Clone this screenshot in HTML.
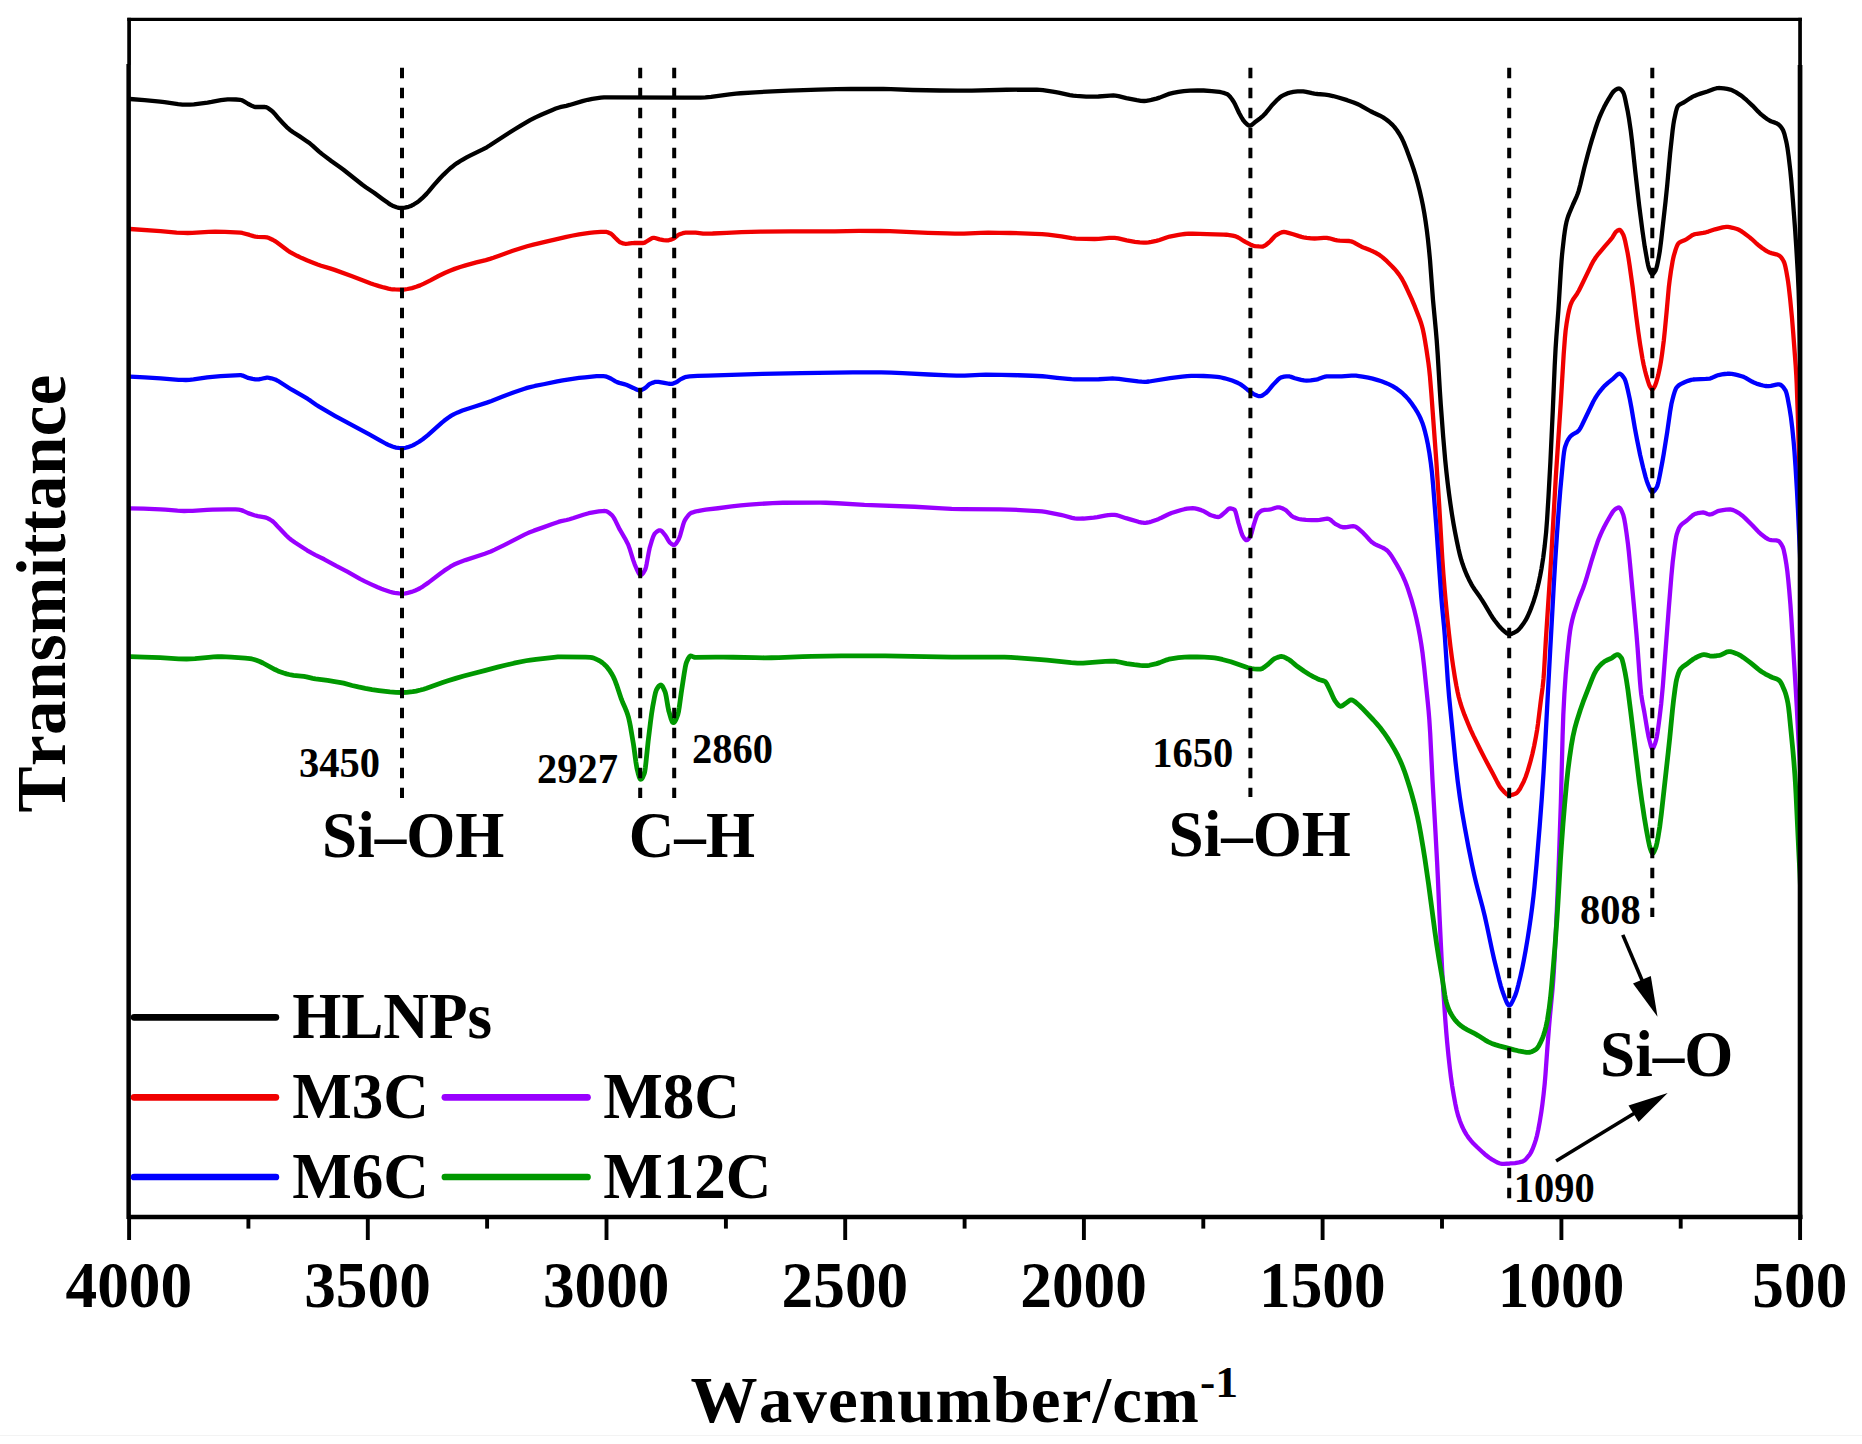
<!DOCTYPE html>
<html lang="en">
<head>
<meta charset="utf-8">
<title>FTIR spectra</title>
<style>
html,body{margin:0;padding:0;background:#fff;}
body{width:1862px;height:1444px;overflow:hidden;}
svg{display:block;}
text{font-kerning:none;font-family:"Liberation Serif","Times New Roman",serif;font-weight:bold;fill:#000;}
.crv{fill:none;stroke-width:4.3;stroke-linejoin:round;stroke-linecap:round;}
.dash{stroke:#000;stroke-width:4;stroke-dasharray:10.5 9.5;fill:none;}
.lg{stroke-width:6.7;stroke-linecap:round;fill:none;}
.tk{stroke:#000;stroke-width:3.9;fill:none;}
</style>
</head>
<body>
<svg width="1862" height="1444" viewBox="0 0 1862 1444">
<rect x="0" y="0" width="1862" height="1444" fill="#ffffff"/>
<defs><clipPath id="plot"><rect x="128.8" y="19.5" width="1671.2" height="1196.7"/></clipPath></defs>
<g id="curves" clip-path="url(#plot)">
<path id="c-black" class="crv" stroke="#000000" d="M130.0,99.00 144.5,100.22 160.1,101.71 164.5,102.24 178.1,104.15 182.5,104.56 186.4,104.70 189.9,104.61 193.9,104.30 207.5,102.60 211.6,101.95 220.9,100.19 225.4,99.56 227.7,99.37 229.8,99.30 236.0,99.49 240.2,99.82 241.0,99.99 241.9,100.30 243.6,101.14 247.9,103.76 252.4,106.12 254.2,106.82 255.4,107.00 265.1,107.01 265.8,107.11 266.6,107.36 267.7,107.90 268.9,108.69 272.0,111.05 273.0,111.93 274.8,113.88 278.9,118.84 283.0,123.24 286.7,127.04 289.7,129.72 292.8,132.00 299.7,136.43 306.4,140.92 309.8,143.36 312.5,145.55 319.1,151.55 322.5,154.36 331.6,161.17 340.1,167.20 343.5,169.70 362.4,184.74 365.8,187.17 374.1,192.67 382.8,199.17 388.6,203.33 390.5,204.58 392.5,205.64 396.6,207.21 398.8,207.81 400.7,208.00 402.7,207.89 404.9,207.56 408.5,206.78 410.1,206.27 411.9,205.46 414.0,204.30 417.3,202.20 419.1,200.87 422.2,198.15 426.5,193.86 428.5,191.60 434.1,184.91 439.8,178.56 443.6,174.58 447.6,170.76 451.0,167.73 454.0,165.30 457.1,163.08 461.5,160.28 466.6,157.38 470.5,155.40 482.8,149.43 486.8,147.27 490.0,145.28 496.9,140.68 504.6,135.71 514.4,129.51 521.2,125.35 530.1,120.21 535.5,117.40 541.8,114.47 553.0,109.67 555.8,108.57 558.3,107.71 561.1,106.92 566.3,105.79 569.6,104.96 582.5,101.15 587.7,99.78 592.4,98.84 600.9,97.66 604.0,97.39 606.7,97.30 684.4,97.68 697.0,97.70 700.3,97.63 705.4,97.34 711.1,96.79 729.5,94.38 736.0,93.64 740.6,93.26 755.1,92.30 772.4,91.31 788.9,90.58 818.3,89.61 836.5,89.16 850.9,89.00 883.3,89.02 890.9,89.20 912.5,89.98 939.8,90.52 957.4,90.70 971.8,90.57 1006.5,89.74 1036.9,89.70 1039.8,89.82 1043.0,90.13 1054.3,91.85 1058.5,92.64 1069.8,95.08 1073.2,95.64 1076.3,95.97 1086.2,96.54 1093.8,96.70 1098.4,96.51 1110.0,95.59 1113.4,95.50 1115.4,95.62 1118.5,96.13 1126.3,98.08 1136.8,100.22 1140.8,100.82 1144.2,101.00 1146.4,100.86 1148.8,100.49 1151.3,99.95 1156.5,98.65 1159.6,97.63 1166.2,94.92 1169.1,93.89 1173.1,92.91 1178.5,91.82 1183.8,91.07 1190.0,90.66 1197.4,90.41 1203.6,90.51 1211.8,91.09 1216.8,91.59 1219.6,91.98 1222.2,92.50 1224.6,93.16 1226.8,93.94 1227.9,94.59 1229.0,95.57 1230.3,97.04 1232.0,99.30 1233.8,101.93 1235.3,104.78 1239.1,112.98 1242.0,118.19 1243.6,120.74 1244.8,122.20 1247.4,124.59 1248.7,125.41 1249.3,125.62 1249.9,125.70 1250.8,125.50 1251.8,124.89 1254.5,122.55 1260.3,118.20 1263.3,115.60 1264.6,114.29 1266.0,112.71 1271.0,106.47 1273.0,104.14 1277.5,99.59 1280.0,97.33 1281.1,96.50 1282.1,95.87 1285.1,94.40 1288.3,93.10 1291.2,92.26 1293.2,91.91 1297.7,91.47 1300.9,91.31 1303.2,91.35 1306.2,91.80 1312.0,93.19 1314.4,93.64 1317.6,94.01 1325.1,94.68 1328.6,95.14 1333.0,96.05 1338.4,97.52 1347.1,100.17 1353.7,102.51 1357.4,104.03 1359.8,105.14 1362.4,106.54 1370.6,111.25 1373.1,112.49 1379.5,115.45 1383.1,117.39 1386.2,119.44 1389.1,121.72 1391.9,124.30 1394.3,126.90 1396.9,130.26 1399.5,134.21 1401.6,137.87 1403.5,141.90 1406.3,148.81 1410.9,161.16 1413.5,168.75 1415.8,176.20 1417.9,183.68 1419.7,190.71 1421.4,198.11 1422.9,205.42 1424.3,213.20 1425.6,221.40 1426.8,229.94 1427.9,239.05 1429.0,249.47 1430.0,260.03 1433.0,300.00 1435.8,329.70 1436.7,340.22 1437.7,354.49 1439.9,391.30 1440.8,405.00 1443.2,436.93 1445.2,459.94 1446.4,471.69 1447.7,483.20 1449.0,493.62 1450.4,503.82 1452.0,514.52 1453.5,523.66 1454.9,531.42 1456.8,541.03 1458.4,548.56 1459.9,554.91 1461.2,559.69 1462.6,564.07 1464.5,569.37 1466.6,574.51 1468.9,579.46 1471.3,584.04 1472.8,586.58 1474.5,589.23 1480.2,597.35 1482.2,600.34 1484.4,603.91 1490.9,614.87 1492.9,617.97 1494.7,620.50 1498.9,625.83 1500.6,627.75 1502.1,629.27 1505.6,632.32 1506.8,633.26 1508.1,633.98 1508.7,634.15 1509.2,634.20 1510.1,634.13 1511.1,633.92 1512.1,633.59 1513.3,633.07 1516.4,631.40 1517.4,630.68 1518.4,629.81 1519.5,628.68 1520.6,627.41 1523.1,624.07 1525.5,620.42 1527.4,616.88 1529.4,612.46 1531.5,607.14 1533.7,600.91 1535.5,595.14 1537.1,589.28 1538.6,583.05 1540.1,576.01 1541.5,568.60 1543.2,557.75 1544.7,545.89 1546.1,532.36 1547.1,519.37 1548.5,496.64 1550.4,461.86 1552.8,410.40 1554.7,365.75 1555.6,348.33 1556.4,336.43 1558.4,310.15 1560.7,272.81 1561.5,261.24 1562.0,255.33 1562.6,249.42 1564.1,236.37 1564.9,230.57 1565.7,225.70 1566.4,222.31 1567.3,218.93 1568.2,216.12 1569.2,213.48 1573.0,204.50 1576.6,196.52 1577.7,193.71 1578.6,191.07 1580.3,184.81 1584.3,167.78 1587.5,155.57 1589.9,146.79 1591.9,139.93 1595.2,129.28 1597.3,123.01 1599.1,118.18 1600.7,114.37 1602.4,110.61 1604.1,107.11 1605.9,103.68 1607.6,100.70 1611.3,94.56 1612.7,92.53 1614.0,91.03 1614.6,90.51 1615.4,89.97 1617.3,88.88 1618.5,88.53 1619.0,88.50 1619.5,88.60 1620.0,88.82 1620.6,89.23 1621.9,90.58 1623.2,92.36 1623.9,94.00 1624.5,96.06 1625.2,99.01 1627.6,110.73 1629.1,119.47 1630.7,130.32 1632.0,140.93 1635.3,171.84 1639.2,205.69 1642.4,230.54 1644.7,246.45 1647.2,260.73 1648.0,264.69 1648.7,267.52 1649.3,269.30 1650.2,271.41 1650.9,272.83 1651.3,273.46 1651.7,273.92 1652.1,274.17 1652.5,274.18 1652.9,274.02 1653.3,273.73 1654.3,272.51 1655.6,270.31 1656.3,268.50 1657.0,265.94 1657.8,262.31 1659.0,255.97 1659.8,251.22 1661.2,240.31 1665.6,201.09 1667.2,185.40 1670.1,153.46 1672.6,130.58 1673.4,124.49 1674.2,119.70 1675.9,111.80 1676.6,109.20 1677.2,107.46 1677.6,106.59 1678.0,106.00 1678.9,105.12 1679.9,104.38 1680.9,103.82 1684.1,102.26 1690.1,98.30 1692.4,96.91 1694.4,95.91 1697.3,94.74 1700.5,93.63 1707.4,91.47 1713.9,89.00 1716.7,88.24 1718.6,88.01 1721.0,88.06 1723.9,88.36 1727.2,88.92 1730.2,89.58 1732.7,90.54 1735.8,92.19 1740.4,95.05 1743.3,97.26 1746.7,100.24 1752.7,105.85 1758.0,111.39 1759.9,113.28 1761.4,114.62 1764.7,117.28 1767.4,119.24 1769.8,120.69 1771.6,121.52 1775.0,122.65 1776.4,123.21 1777.9,124.03 1779.1,124.94 1780.2,126.04 1781.3,127.41 1782.5,129.26 1783.2,130.61 1783.9,132.44 1784.6,134.71 1786.2,141.19 1786.8,144.08 1787.4,147.55 1788.6,155.99 1790.3,170.41 1791.3,180.80 1792.8,199.20 1795.1,229.46 1796.2,246.02 1797.8,272.82 1798.6,290.73 1799.2,310.53 1800.2,365.91 1801.0,420.00"/>
<path id="c-red" class="crv" stroke="#f00000" d="M130.0,229.00 160.5,231.04 176.6,232.53 183.7,232.95 187.7,233.00 192.3,232.88 208.6,231.93 215.1,231.71 225.0,231.82 235.4,232.29 240.3,232.63 242.3,232.95 249.5,234.94 253.4,236.13 255.4,236.58 257.9,236.82 264.6,237.10 266.9,237.38 268.3,237.80 269.9,238.45 273.1,240.00 274.6,240.86 276.4,242.08 281.4,245.72 288.0,250.71 290.1,252.08 292.9,253.70 297.0,255.82 301.8,258.08 306.8,260.22 313.7,263.00 317.6,264.48 321.1,265.70 330.0,268.35 334.6,269.89 352.1,276.31 370.9,283.42 373.9,284.47 379.1,286.14 383.8,287.45 388.4,288.57 390.8,289.04 392.5,289.27 395.2,289.46 400.8,289.70 403.8,289.57 407.5,289.00 412.0,288.07 416.2,286.79 420.1,285.36 423.9,283.65 430.4,280.38 438.5,276.00 444.7,272.99 449.3,270.96 454.7,268.88 460.2,266.98 465.6,265.34 476.4,262.43 485.8,260.06 490.0,258.85 493.4,257.72 500.5,255.15 512.8,250.84 521.5,247.97 527.1,246.25 533.4,244.57 545.0,241.81 560.1,238.38 566.5,236.82 571.7,235.75 579.1,234.43 589.4,232.88 594.0,232.38 600.9,231.92 604.4,231.81 606.1,231.86 607.7,232.26 609.8,233.16 611.0,233.78 612.0,234.57 614.9,237.54 618.1,240.64 619.8,242.07 620.7,242.56 623.0,243.34 624.5,243.68 625.8,243.80 627.9,243.69 632.0,243.16 633.7,243.02 643.1,243.00 643.7,242.94 644.4,242.72 645.3,242.27 651.6,238.34 652.4,237.98 653.2,237.81 654.1,237.84 655.1,238.00 659.6,239.35 663.5,240.06 666.5,240.38 667.6,240.39 668.6,240.27 670.7,239.68 673.7,238.46 674.9,237.63 677.7,235.27 679.0,234.48 682.8,233.19 684.3,232.86 685.6,232.71 695.6,232.72 697.6,232.89 703.1,233.61 706.5,233.69 712.6,233.52 726.8,232.79 741.5,232.22 760.8,231.64 790.5,231.32 834.8,231.29 859.1,230.90 880.6,231.01 889.9,231.19 900.6,231.58 927.9,232.81 947.1,233.47 954.8,233.66 960.2,233.70 964.0,233.64 980.8,232.82 988.2,232.70 999.2,232.78 1010.6,232.99 1022.5,233.32 1034.9,233.78 1042.1,234.12 1048.0,234.69 1061.4,236.49 1071.6,238.22 1076.0,238.67 1086.0,238.93 1094.5,238.99 1098.7,238.78 1109.3,237.91 1112.5,237.80 1114.6,237.87 1116.4,238.08 1118.4,238.44 1126.6,240.37 1134.9,241.79 1139.7,242.46 1143.7,242.70 1146.0,242.63 1148.6,242.35 1151.4,241.88 1156.3,240.92 1159.5,240.04 1166.6,237.49 1169.7,236.56 1178.6,234.86 1181.8,234.35 1184.7,234.00 1188.5,233.73 1192.5,233.72 1207.1,234.19 1223.7,234.56 1226.5,234.73 1229.4,235.09 1232.6,235.68 1235.8,236.44 1237.2,236.98 1238.8,237.81 1243.7,240.94 1245.3,241.89 1250.2,244.43 1252.2,245.33 1253.7,245.81 1255.2,246.07 1259.0,246.47 1262.1,246.60 1262.7,246.56 1263.3,246.41 1264.6,245.79 1265.8,244.95 1268.9,242.47 1270.5,240.94 1274.1,236.94 1275.0,236.09 1275.9,235.39 1278.9,233.60 1280.7,232.70 1282.4,232.14 1283.9,232.00 1285.5,232.16 1287.4,232.60 1293.2,234.26 1299.0,236.15 1301.5,236.87 1303.5,237.30 1306.8,237.80 1311.2,238.33 1314.7,238.50 1317.4,238.40 1323.8,237.85 1325.6,237.80 1326.7,237.85 1329.3,238.31 1334.8,239.92 1337.2,240.45 1339.7,240.66 1349.4,241.02 1350.9,241.28 1352.6,241.86 1355.0,243.02 1359.6,245.71 1361.5,246.72 1364.1,247.86 1370.5,250.37 1373.3,251.57 1376.3,253.05 1378.9,254.62 1380.7,255.90 1382.6,257.39 1386.9,261.21 1392.2,266.42 1394.3,268.69 1396.2,270.90 1399.1,274.65 1401.7,278.52 1403.9,282.49 1406.6,288.03 1411.6,298.92 1415.1,307.17 1419.7,319.01 1420.9,322.49 1421.9,325.79 1422.9,329.64 1423.9,334.46 1425.0,340.66 1426.5,349.87 1428.4,362.81 1429.2,369.32 1429.9,375.93 1431.3,392.78 1436.4,462.44 1439.2,505.23 1442.3,558.66 1443.4,574.08 1444.7,590.21 1446.0,604.73 1447.4,618.94 1449.0,634.04 1450.5,647.00 1451.8,657.08 1453.1,666.01 1454.8,676.82 1456.3,685.44 1457.6,692.02 1458.8,697.22 1460.4,703.02 1462.1,708.36 1464.5,714.91 1468.4,724.47 1470.8,730.03 1473.5,735.86 1480.6,750.20 1484.5,757.87 1488.4,765.29 1493.1,773.97 1497.3,782.14 1499.1,785.36 1500.3,787.27 1501.4,788.77 1504.8,792.50 1505.9,793.56 1506.9,794.35 1507.8,794.87 1508.7,795.15 1509.8,795.18 1511.3,794.98 1512.8,794.60 1514.5,794.00 1515.9,793.40 1516.5,793.06 1517.3,792.38 1518.2,791.36 1519.3,789.80 1520.5,787.79 1523.9,781.16 1525.7,776.79 1527.7,770.90 1530.1,762.73 1532.3,754.29 1534.2,745.73 1536.0,736.33 1537.2,729.28 1538.0,723.76 1540.9,700.00 1542.6,687.42 1543.5,678.88 1544.1,670.53 1545.9,639.20 1551.0,561.11 1555.8,477.10 1560.7,403.86 1563.7,354.19 1564.9,338.22 1565.6,330.73 1566.7,322.81 1568.0,315.15 1568.9,310.81 1569.8,307.25 1570.7,304.46 1571.8,301.86 1572.6,300.30 1573.4,298.95 1577.1,293.69 1578.8,290.77 1581.3,285.81 1590.8,266.06 1593.4,261.11 1595.7,257.51 1598.5,253.79 1605.0,246.09 1609.6,240.92 1611.7,238.36 1612.7,236.91 1615.0,233.03 1616.1,231.65 1617.7,230.50 1618.3,230.17 1618.9,229.96 1619.4,229.90 1619.8,229.97 1620.2,230.19 1620.7,230.63 1621.3,231.36 1621.9,232.27 1623.4,235.03 1624.2,237.36 1625.2,241.29 1627.6,252.93 1628.5,258.21 1629.6,265.40 1632.6,286.90 1636.2,316.20 1638.3,331.96 1640.1,344.36 1642.5,358.87 1643.6,364.47 1645.1,371.02 1646.4,375.95 1648.2,381.92 1649.1,384.53 1649.9,386.32 1651.3,388.65 1651.8,389.19 1652.2,389.39 1652.5,389.37 1652.9,389.11 1653.3,388.66 1653.8,387.90 1655.0,385.71 1656.0,383.08 1657.3,378.72 1658.3,374.87 1659.3,370.31 1660.4,364.56 1661.2,359.83 1662.1,353.78 1663.8,340.44 1664.8,330.85 1666.6,311.95 1668.8,287.39 1669.6,280.69 1670.9,271.39 1672.5,261.79 1673.3,257.88 1674.0,255.02 1675.4,250.29 1676.6,246.83 1677.6,244.61 1678.1,243.79 1678.6,243.19 1679.6,242.42 1680.7,241.79 1684.4,240.32 1685.7,239.69 1687.2,238.74 1691.5,235.69 1692.8,234.95 1694.0,234.46 1697.0,233.76 1703.2,232.83 1705.9,232.28 1708.4,231.56 1715.1,229.31 1722.7,227.35 1724.5,227.04 1726.2,226.91 1727.8,226.94 1729.6,227.14 1732.7,227.79 1737.0,229.03 1738.8,229.76 1740.8,230.85 1743.9,232.95 1749.7,237.34 1751.7,239.04 1756.0,243.05 1757.9,244.72 1762.1,247.97 1764.7,249.85 1767.2,251.40 1769.5,252.51 1771.4,253.12 1776.2,254.33 1777.6,254.83 1778.8,255.39 1779.8,256.03 1780.7,256.86 1781.6,257.92 1782.5,259.24 1783.5,261.00 1784.2,262.50 1784.8,264.36 1785.4,266.77 1786.3,271.16 1787.4,277.40 1788.1,281.77 1788.8,286.99 1790.2,299.52 1792.0,318.13 1793.2,332.79 1795.7,365.85 1796.3,375.54 1796.7,383.76 1797.7,411.64 1798.8,447.64 1801.0,530.00"/>
<path id="c-blue" class="crv" stroke="#0000ff" d="M130.0,376.70 144.7,377.43 160.6,378.34 178.6,379.80 182.4,379.96 185.8,379.99 189.4,379.83 193.5,379.43 207.2,377.39 212.4,376.78 220.6,376.20 240.1,375.10 241.2,375.22 242.5,375.58 246.6,377.34 248.1,377.87 252.6,378.88 255.3,379.30 257.3,379.40 258.9,379.28 260.6,378.97 264.7,378.01 266.8,377.72 267.8,377.70 268.9,377.79 271.3,378.27 275.1,379.44 276.4,380.02 277.8,380.79 291.4,389.48 302.7,395.90 307.8,398.93 310.4,400.64 316.1,404.70 319.1,406.63 335.3,416.08 340.0,418.69 369.3,434.42 379.9,440.29 386.0,443.75 389.3,445.32 392.4,446.52 394.5,447.19 396.0,447.53 398.6,447.92 400.6,448.13 402.3,448.20 403.9,448.10 405.7,447.75 407.7,447.18 411.1,446.05 412.7,445.37 414.4,444.51 419.1,441.75 422.7,439.25 427.6,435.35 441.6,422.86 444.1,420.81 448.2,417.73 451.3,415.64 454.1,414.08 457.8,412.38 462.4,410.57 466.3,409.21 474.9,406.56 486.9,402.61 491.5,400.94 502.1,396.71 513.4,392.45 523.7,388.95 527.1,387.90 530.1,387.08 534.9,385.97 543.5,384.25 557.3,381.35 562.7,380.35 572.6,378.82 579.0,377.96 585.0,377.30 596.6,376.18 599.3,376.10 603.4,376.22 605.2,376.34 606.6,376.68 608.0,377.23 611.2,378.74 615.5,381.32 617.1,382.12 619.3,382.87 624.1,384.14 626.2,384.81 628.0,385.54 633.3,387.92 637.1,389.79 638.5,390.25 639.7,390.40 640.6,390.29 641.7,389.92 642.8,389.37 645.0,388.08 646.1,387.22 648.6,384.85 649.7,384.05 652.3,382.89 654.3,382.19 655.3,381.96 656.3,381.82 658.4,381.87 664.2,382.78 668.9,383.76 670.5,383.90 671.7,383.81 673.6,383.32 676.3,382.27 677.4,381.59 680.4,379.38 684.3,377.45 685.4,377.05 686.4,376.78 689.6,376.41 697.5,375.96 708.2,375.53 762.4,373.92 801.2,373.14 852.9,372.43 881.2,372.40 891.1,372.58 902.5,373.07 928.8,374.50 948.9,375.43 956.5,375.67 960.8,375.70 964.7,375.62 979.8,374.87 985.9,374.70 1001.5,374.83 1018.4,375.25 1032.2,375.76 1042.5,376.25 1046.6,376.62 1057.0,377.81 1067.9,378.89 1071.5,379.20 1074.6,379.36 1094.9,379.38 1098.8,379.23 1109.3,378.58 1112.6,378.50 1114.9,378.55 1118.9,378.92 1125.9,379.87 1138.2,381.37 1141.6,381.68 1144.6,381.80 1146.7,381.75 1149.1,381.50 1170.1,378.19 1182.3,376.55 1187.2,376.03 1191.2,375.81 1196.5,375.83 1203.6,376.02 1211.1,376.39 1217.2,376.81 1219.2,377.09 1221.3,377.49 1224.6,378.30 1229.6,379.70 1232.1,380.52 1234.5,381.43 1238.1,383.04 1239.8,383.91 1240.9,384.57 1242.8,385.94 1247.5,389.69 1251.6,392.68 1253.3,393.78 1254.5,394.41 1257.5,395.69 1258.8,396.07 1259.9,396.20 1260.5,396.16 1261.1,396.02 1262.4,395.44 1265.5,393.33 1266.5,392.51 1268.4,390.50 1271.9,386.14 1273.2,384.63 1277.7,379.93 1279.5,378.34 1280.5,377.70 1281.4,377.33 1284.1,376.71 1286.4,376.38 1288.2,376.30 1289.6,376.48 1291.1,376.90 1294.8,378.21 1301.1,379.88 1304.0,380.45 1306.5,380.60 1310.7,380.36 1315.9,379.71 1318.2,379.06 1323.8,376.99 1325.3,376.58 1326.7,376.35 1341.6,376.29 1351.6,375.64 1353.9,375.60 1356.0,375.70 1358.9,376.02 1362.5,376.60 1368.3,377.66 1372.6,378.66 1376.9,379.86 1381.5,381.32 1385.2,382.68 1388.6,384.12 1392.6,386.12 1395.8,388.06 1399.4,390.68 1403.0,393.73 1406.0,396.60 1408.7,399.61 1411.5,403.21 1414.4,407.41 1417.0,411.57 1419.0,415.17 1420.8,418.96 1422.4,422.94 1423.7,426.86 1425.1,431.92 1426.5,437.78 1427.8,443.96 1429.4,453.14 1430.9,463.69 1432.0,473.03 1433.1,485.07 1436.1,523.55 1441.2,596.23 1442.1,606.83 1444.0,626.24 1444.8,635.81 1447.8,680.80 1449.1,696.91 1452.4,729.98 1455.4,761.07 1457.7,781.25 1459.8,797.09 1462.0,811.31 1464.7,826.88 1468.5,847.27 1472.0,864.61 1474.2,874.68 1476.1,882.71 1477.9,889.72 1482.4,906.57 1484.8,916.27 1487.1,926.62 1492.0,949.89 1494.1,959.21 1499.1,979.60 1500.7,985.54 1502.1,990.17 1503.0,992.78 1505.4,999.16 1506.7,1002.34 1507.4,1003.71 1508.0,1004.61 1508.6,1005.19 1509.1,1005.39 1509.7,1005.29 1510.3,1004.87 1510.9,1004.20 1511.6,1003.13 1513.3,999.73 1514.9,996.15 1515.7,994.07 1516.9,990.28 1518.3,985.07 1520.5,975.91 1522.1,968.82 1523.8,960.41 1525.6,950.59 1527.6,938.76 1529.3,927.94 1530.8,917.55 1532.2,906.90 1533.5,896.02 1534.5,886.55 1536.5,864.69 1539.7,825.99 1541.7,799.63 1543.5,773.13 1544.9,749.09 1550.1,651.99 1553.6,588.44 1555.2,561.29 1557.0,533.93 1558.7,509.99 1560.2,491.26 1562.8,463.03 1563.5,456.47 1564.1,451.83 1564.7,448.38 1565.4,445.93 1566.7,442.44 1567.4,440.91 1568.2,439.42 1569.6,437.36 1570.4,436.42 1571.3,435.53 1572.8,434.42 1576.0,432.71 1577.3,431.86 1578.6,430.69 1579.7,429.22 1580.7,427.55 1581.9,425.22 1593.2,401.72 1595.3,397.94 1597.8,394.17 1599.5,391.84 1601.3,389.56 1603.1,387.48 1604.9,385.60 1607.9,382.87 1613.5,378.34 1616.6,375.23 1618.0,374.14 1618.8,373.79 1619.5,373.70 1620.2,373.87 1620.9,374.27 1621.7,374.97 1622.5,375.88 1623.5,377.24 1624.6,378.94 1625.5,381.11 1626.6,384.93 1627.7,389.57 1629.8,399.15 1631.4,407.67 1634.9,428.41 1637.1,439.98 1640.2,455.22 1643.1,467.53 1645.6,477.16 1646.6,480.49 1647.6,483.36 1649.7,488.46 1650.6,490.36 1651.1,491.18 1651.5,491.67 1652.0,492.04 1652.4,492.10 1653.2,491.83 1654.0,491.20 1654.8,490.27 1655.8,488.80 1656.8,487.10 1657.2,486.25 1657.7,484.80 1658.3,482.58 1659.8,475.43 1662.4,461.52 1663.7,454.04 1667.2,432.12 1670.2,411.02 1671.4,404.11 1672.3,400.26 1673.5,395.64 1674.4,392.59 1675.2,390.30 1675.9,388.69 1676.5,387.66 1677.4,386.61 1678.5,385.58 1679.5,384.84 1680.6,384.17 1684.5,382.28 1688.0,380.86 1691.2,379.90 1693.3,379.51 1695.5,379.29 1705.8,378.84 1709.6,378.53 1710.6,378.30 1711.8,377.89 1716.5,375.73 1718.6,375.01 1721.9,374.41 1724.7,374.00 1727.1,373.77 1729.2,373.70 1731.7,373.86 1734.5,374.32 1737.7,375.10 1742.5,376.49 1744.0,377.09 1745.6,377.88 1751.9,381.53 1754.5,382.85 1756.4,383.57 1760.6,384.86 1763.0,385.50 1766.0,386.01 1767.4,386.10 1768.6,386.07 1770.9,385.77 1776.4,384.63 1777.8,384.45 1779.1,384.40 1779.8,384.51 1780.6,384.85 1781.4,385.37 1782.2,386.07 1783.1,387.04 1784.0,388.18 1785.2,389.90 1785.6,390.64 1786.1,391.93 1786.6,393.59 1787.7,398.28 1789.4,407.53 1791.0,417.64 1792.3,428.38 1793.6,441.41 1794.5,451.99 1795.5,466.40 1797.0,491.34 1797.9,508.44 1800.0,554.41 1800.5,569.92 1801.0,590.00"/>
<path id="c-purple" class="crv" stroke="#9900ff" d="M130.0,508.30 143.6,508.64 160.5,509.32 165.3,509.65 177.5,510.70 181.0,510.91 184.2,511.00 188.1,510.96 192.5,510.81 207.1,509.96 212.5,509.72 227.8,509.34 233.4,509.30 235.4,509.38 238.7,509.72 241.1,510.13 243.2,510.88 248.1,513.12 254.3,515.22 257.8,516.13 263.6,517.09 266.1,517.69 267.7,518.31 269.5,519.25 271.9,520.77 273.2,521.79 275.0,523.54 278.7,527.58 286.3,535.47 288.8,537.84 291.1,539.74 295.0,542.55 301.9,547.07 307.0,550.28 311.5,552.91 315.1,554.82 324.2,559.30 336.2,565.90 347.3,571.66 360.0,578.94 364.9,581.39 370.7,584.08 377.7,587.22 381.3,588.74 384.0,589.76 389.9,591.76 392.3,592.42 394.5,592.87 398.9,593.48 402.0,593.70 403.7,593.64 405.6,593.37 407.8,592.88 411.4,591.94 413.3,591.29 415.3,590.48 418.0,589.24 420.0,588.22 423.1,586.30 428.4,582.62 440.7,573.24 443.9,570.91 450.3,566.69 452.6,565.34 454.7,564.25 458.9,562.45 465.4,560.09 484.8,553.70 488.0,552.56 490.8,551.44 494.8,549.62 503.6,545.33 515.8,539.19 524.5,534.66 527.2,533.36 529.7,532.28 533.9,530.65 543.2,527.35 552.4,523.92 558.4,521.94 561.2,521.20 566.6,520.02 569.5,519.25 573.5,518.02 583.4,514.73 588.7,513.23 593.1,512.33 598.8,511.47 602.4,511.10 604.5,511.00 605.6,511.05 606.7,511.36 607.8,511.91 609.5,513.11 611.9,515.19 612.9,516.36 613.9,517.88 615.5,520.83 619.7,529.45 625.2,538.83 627.6,543.46 628.6,545.71 629.5,548.14 633.2,560.14 634.7,564.31 637.4,570.59 638.5,572.83 639.1,573.79 639.7,574.50 640.2,574.87 640.7,575.00 641.2,574.91 641.7,574.64 642.3,574.12 642.9,573.42 643.7,572.25 644.6,570.73 645.1,569.80 645.5,568.76 646.0,566.95 646.6,564.20 648.7,552.57 649.6,548.22 651.6,541.29 653.1,536.83 654.0,534.78 654.8,533.52 656.4,532.01 657.8,531.00 658.9,530.49 660.0,530.30 660.8,530.50 661.6,531.03 662.8,532.27 665.5,535.65 666.3,536.92 668.5,540.80 669.6,542.32 671.2,543.68 672.4,544.51 673.4,544.92 673.9,545.00 674.3,544.96 674.7,544.80 675.2,544.44 676.2,543.30 678.4,539.83 679.0,538.58 679.6,536.99 680.3,534.79 683.3,524.20 684.0,522.15 684.7,520.53 686.5,517.71 688.2,515.47 689.8,513.84 690.5,513.31 691.2,512.91 694.1,511.95 697.7,511.02 701.5,510.27 705.7,509.64 718.0,508.25 731.8,506.46 740.8,505.41 749.4,504.59 759.6,503.87 772.7,503.08 782.8,502.73 820.2,502.70 825.8,502.77 837.3,503.24 864.4,504.90 914.5,506.75 942.4,508.35 951.7,508.78 962.2,509.03 999.8,509.35 1010.0,509.62 1020.2,510.04 1029.1,510.53 1038.1,511.15 1041.9,511.48 1045.5,511.95 1050.5,512.81 1060.7,514.84 1063.5,515.52 1072.0,517.88 1074.7,518.41 1077.2,518.67 1080.0,518.68 1083.6,518.52 1093.7,517.66 1097.4,517.14 1105.0,515.66 1108.2,515.14 1111.7,514.83 1113.2,514.80 1114.5,514.89 1116.5,515.20 1118.7,515.76 1126.0,518.17 1130.2,519.33 1138.4,521.81 1141.9,522.55 1143.4,522.73 1144.9,522.80 1146.3,522.74 1147.9,522.50 1149.6,522.10 1151.6,521.48 1156.8,519.69 1158.8,518.91 1161.4,517.72 1168.0,514.46 1171.5,512.99 1181.3,510.01 1184.4,509.22 1187.1,508.68 1190.0,508.30 1192.7,508.20 1194.7,508.40 1197.1,508.93 1201.2,510.16 1202.6,510.71 1204.5,511.70 1208.8,514.22 1211.0,515.26 1215.5,516.64 1216.9,516.91 1218.2,517.00 1218.8,516.93 1219.5,516.69 1220.2,516.32 1221.0,515.75 1225.2,512.21 1227.6,509.76 1228.6,508.92 1229.1,508.63 1229.6,508.45 1230.6,508.42 1232.3,508.74 1234.1,509.41 1234.6,509.76 1235.0,510.42 1235.5,511.69 1236.0,513.33 1238.4,522.75 1241.0,531.50 1242.0,534.42 1242.8,536.14 1244.6,538.83 1245.6,539.86 1246.1,540.13 1246.5,540.20 1246.9,540.14 1247.4,539.92 1248.3,539.18 1249.5,537.66 1250.7,535.73 1251.5,533.39 1253.4,526.23 1256.0,517.92 1256.6,516.26 1257.2,514.90 1257.7,514.05 1258.3,513.36 1259.4,512.27 1260.5,511.38 1261.6,510.69 1262.6,510.27 1264.4,509.95 1268.7,509.61 1270.3,509.40 1271.9,508.98 1275.6,507.74 1277.4,507.36 1278.9,507.33 1280.5,507.66 1282.2,508.31 1284.9,509.60 1285.8,510.19 1286.7,510.94 1290.7,515.07 1292.4,516.50 1293.2,516.95 1295.4,517.86 1297.2,518.50 1298.9,518.99 1301.4,519.45 1306.0,519.81 1311.7,520.11 1317.1,520.20 1319.7,519.96 1325.6,518.85 1327.0,518.72 1328.1,518.73 1329.2,519.06 1330.4,519.78 1331.6,520.73 1334.3,523.14 1335.7,524.17 1339.6,526.14 1341.7,526.97 1343.2,527.27 1344.9,527.26 1346.7,527.06 1351.1,526.37 1353.2,526.20 1354.3,526.29 1355.5,526.71 1356.6,527.34 1357.8,528.24 1363.2,532.96 1365.1,534.89 1369.7,540.01 1371.0,541.30 1372.1,542.27 1373.6,543.34 1375.3,544.34 1377.2,545.26 1382.5,547.61 1384.2,548.52 1385.7,549.48 1387.1,550.55 1388.4,551.84 1389.8,553.55 1391.3,555.67 1393.3,558.83 1396.9,564.87 1399.7,569.84 1402.7,575.82 1405.5,582.22 1406.8,585.61 1408.2,589.58 1411.4,599.67 1414.0,608.79 1416.2,617.68 1418.1,626.46 1419.8,635.35 1421.3,644.34 1422.6,653.41 1424.2,667.34 1427.8,702.55 1428.6,710.89 1429.3,719.32 1430.2,733.35 1432.5,780.00 1435.5,832.58 1437.1,862.03 1437.9,878.60 1439.5,915.70 1440.8,942.96 1442.2,970.74 1443.4,991.83 1445.3,1019.75 1446.3,1032.53 1447.2,1042.79 1448.5,1055.95 1449.8,1067.86 1451.0,1077.62 1452.2,1086.04 1453.8,1095.65 1455.3,1103.71 1456.7,1110.23 1458.0,1115.25 1459.8,1120.67 1461.8,1125.71 1464.0,1130.35 1466.3,1134.37 1467.8,1136.63 1469.5,1138.94 1471.3,1141.14 1473.2,1143.24 1477.3,1147.28 1482.9,1152.46 1485.8,1155.02 1489.0,1157.55 1491.8,1159.38 1495.8,1161.65 1497.5,1162.53 1499.3,1163.27 1500.9,1163.69 1502.0,1163.80 1503.9,1163.78 1509.8,1163.48 1515.0,1163.03 1519.0,1162.40 1521.9,1161.69 1523.2,1161.19 1524.0,1160.71 1524.8,1160.10 1526.5,1158.46 1529.0,1155.41 1529.9,1154.17 1530.7,1152.88 1531.5,1151.37 1532.4,1149.42 1534.1,1145.07 1535.9,1139.60 1537.0,1135.51 1538.3,1129.51 1539.8,1121.34 1541.3,1112.13 1542.4,1104.30 1543.6,1094.34 1544.7,1083.76 1545.5,1074.14 1547.4,1047.52 1548.9,1028.45 1550.0,1015.47 1552.5,989.44 1553.2,980.59 1553.9,970.00 1555.0,949.92 1556.3,922.42 1557.7,890.33 1559.0,857.04 1560.9,801.50 1562.6,735.70 1563.3,715.00 1564.4,693.76 1565.7,674.45 1567.5,653.75 1569.2,637.65 1570.1,630.89 1571.0,625.67 1572.3,619.73 1573.8,614.16 1575.1,610.02 1578.1,601.07 1579.5,597.33 1583.0,588.48 1584.8,583.40 1586.7,577.31 1591.5,560.99 1595.4,548.60 1597.4,542.58 1598.8,538.75 1600.3,535.10 1602.2,530.87 1604.1,526.98 1606.5,522.47 1610.9,514.77 1612.3,512.50 1613.5,510.86 1614.2,510.10 1614.8,509.57 1616.5,508.38 1617.6,507.79 1618.3,507.57 1619.0,507.51 1619.5,507.70 1620.0,508.14 1620.7,509.12 1621.4,510.43 1622.3,512.48 1623.3,515.06 1624.2,518.61 1625.2,524.14 1626.4,532.22 1627.9,543.42 1628.8,551.55 1629.9,562.80 1634.2,608.73 1636.5,634.52 1637.6,648.11 1639.9,680.25 1640.6,688.53 1641.2,694.21 1642.2,700.98 1644.3,712.00 1647.1,728.85 1648.3,735.41 1649.1,739.02 1650.9,745.94 1651.6,747.86 1651.9,748.35 1652.2,748.58 1652.6,748.52 1653.0,748.18 1653.8,746.83 1655.2,743.17 1656.1,740.17 1656.8,736.82 1657.6,732.04 1658.5,725.74 1659.6,717.18 1661.2,703.67 1662.9,685.40 1668.9,606.77 1671.4,575.90 1672.7,562.07 1674.7,545.71 1675.4,540.94 1676.1,537.02 1676.7,534.50 1677.8,531.08 1678.8,528.60 1679.9,526.54 1681.0,525.11 1682.4,523.76 1686.9,520.54 1691.2,516.55 1692.6,515.36 1694.0,514.40 1695.2,513.86 1697.6,513.22 1699.6,512.81 1701.4,512.57 1703.1,512.50 1703.9,512.61 1704.7,512.83 1707.6,513.99 1708.6,514.32 1709.6,514.49 1710.5,514.46 1711.5,514.25 1712.5,513.88 1716.9,511.57 1717.9,511.14 1718.8,510.86 1722.9,510.15 1726.2,509.72 1729.4,509.51 1730.6,509.51 1731.4,509.59 1733.2,510.10 1735.4,511.14 1739.8,513.72 1742.1,515.41 1745.1,518.12 1752.3,525.28 1757.5,530.80 1759.4,532.70 1761.2,534.27 1766.0,537.94 1768.0,539.14 1768.9,539.53 1769.8,539.82 1771.7,540.11 1776.3,540.47 1778.1,540.82 1778.8,541.23 1779.5,541.85 1780.2,542.67 1780.9,543.66 1781.8,545.17 1782.8,547.11 1783.2,548.16 1783.7,549.86 1784.9,555.45 1786.4,564.40 1787.3,571.07 1788.2,579.36 1789.2,590.04 1790.4,604.31 1791.4,618.79 1795.8,689.75 1796.8,707.27 1798.5,740.00 1799.7,759.39 1800.3,772.73 1801.0,800.00"/>
<path id="c-green" class="crv" stroke="#009800" style="stroke-width:4.8px" d="M130.0,656.70 144.2,657.12 160.2,657.71 178.6,658.78 186.7,659.00 190.6,658.91 195.0,658.64 208.8,657.31 213.5,656.93 217.8,656.73 221.8,656.71 226.1,656.86 231.2,657.16 245.2,658.17 250.0,658.66 251.9,658.98 254.0,659.52 256.4,660.30 259.7,661.51 262.9,663.01 275.0,669.53 277.9,670.95 280.0,671.78 283.7,673.04 286.5,673.87 289.1,674.51 291.2,674.93 293.5,675.28 301.0,676.07 303.8,676.43 306.5,676.93 312.7,678.34 315.5,678.88 327.5,680.49 334.7,681.54 339.3,682.30 343.6,683.19 352.1,685.48 358.3,686.91 365.2,688.33 372.1,689.52 378.9,690.53 389.9,691.97 395.9,692.34 402.2,692.50 406.5,692.33 412.7,691.69 416.1,691.09 420.5,690.04 423.6,689.22 426.6,688.27 442.6,682.55 447.9,680.78 455.7,678.34 463.7,676.03 472.4,673.70 485.5,670.45 497.6,667.19 505.2,665.28 514.0,663.22 525.9,660.75 530.3,660.01 536.0,659.26 553.8,657.28 557.8,656.96 561.1,656.91 585.6,657.20 590.3,657.31 592.0,657.58 593.4,658.00 595.0,658.62 598.2,660.09 599.6,660.84 601.0,661.73 602.4,662.76 603.9,664.00 605.4,665.39 606.6,666.65 607.9,668.21 609.2,669.96 610.5,671.90 612.0,674.36 613.4,676.89 614.9,680.22 616.6,684.86 621.3,698.92 622.6,702.25 625.3,708.34 626.4,711.01 627.6,714.40 628.6,717.80 629.5,721.68 630.5,726.80 633.4,743.91 634.1,748.63 635.9,762.10 636.9,768.22 638.2,773.48 639.2,776.89 639.6,777.93 640.0,778.72 640.4,779.19 640.7,779.30 641.2,779.15 641.7,778.72 642.2,778.04 642.8,776.96 643.5,775.39 644.3,773.30 644.6,772.23 644.9,770.69 645.4,767.28 645.9,763.04 648.1,741.65 650.5,722.01 651.6,713.67 652.6,707.26 654.4,697.57 655.4,693.07 656.3,690.15 657.1,688.62 658.4,686.66 659.3,685.66 660.1,685.13 660.8,685.01 661.4,685.25 662.1,685.93 662.9,687.15 663.7,688.72 664.7,690.99 665.1,691.96 665.5,693.29 666.3,697.11 667.8,705.98 668.5,709.67 668.9,711.35 671.0,718.57 671.9,721.01 672.3,721.80 672.7,722.36 673.1,722.66 673.4,722.69 673.8,722.56 674.3,722.17 674.8,721.56 675.3,720.74 676.4,718.40 677.8,714.71 678.4,712.26 679.2,707.57 681.2,693.20 684.3,672.88 685.2,667.58 685.9,664.26 686.6,661.94 688.3,658.41 688.9,657.43 689.5,656.67 690.0,656.24 690.5,656.02 691.0,656.02 691.6,656.16 693.9,657.17 694.9,657.40 715.7,657.12 723.2,657.11 733.2,657.24 755.4,657.70 764.8,657.80 771.4,657.77 778.7,657.61 802.7,656.69 811.6,656.43 841.2,655.97 862.3,655.81 873.1,655.82 885.1,655.95 951.8,657.06 1004.5,657.15 1010.9,657.37 1018.0,657.78 1041.0,659.58 1047.0,660.15 1071.2,662.70 1077.5,663.15 1080.4,663.20 1083.1,663.10 1092.3,662.27 1105.4,661.42 1110.6,661.22 1114.2,661.24 1116.0,661.42 1118.1,661.76 1126.6,663.60 1134.3,664.74 1140.2,665.46 1142.7,665.64 1145.0,665.70 1147.1,665.60 1149.4,665.27 1156.7,663.60 1159.7,662.63 1166.9,659.83 1168.9,659.22 1170.7,658.83 1178.5,657.71 1184.7,657.10 1189.5,656.90 1197.1,656.98 1204.2,657.22 1212.0,657.62 1214.6,657.88 1217.5,658.36 1222.3,659.46 1230.9,661.77 1247.3,667.43 1249.9,668.22 1251.8,668.61 1254.1,668.86 1257.3,669.12 1260.0,669.20 1260.8,669.10 1261.7,668.79 1262.6,668.31 1263.7,667.57 1267.6,664.67 1272.4,660.21 1273.6,659.26 1274.6,658.64 1277.6,657.36 1279.7,656.71 1281.5,656.50 1282.3,656.56 1283.1,656.74 1284.1,657.09 1285.3,657.65 1288.4,659.32 1289.5,660.00 1291.5,661.51 1295.7,665.11 1297.5,666.53 1304.2,671.25 1309.3,674.50 1313.6,676.90 1317.3,678.72 1319.7,679.72 1323.6,680.88 1324.7,681.37 1325.4,681.82 1326.3,682.92 1327.3,684.71 1330.7,691.83 1333.3,697.63 1334.4,699.77 1335.1,700.86 1337.5,704.07 1338.5,705.18 1339.4,705.91 1340.0,706.20 1340.6,706.30 1341.3,706.20 1342.1,705.88 1343.0,705.32 1345.2,703.64 1346.7,702.63 1349.1,700.78 1349.9,700.29 1350.6,700.00 1351.5,699.91 1352.4,700.11 1353.4,700.60 1354.6,701.45 1359.4,705.54 1361.9,707.92 1373.4,720.01 1376.9,723.86 1380.2,727.82 1383.7,732.43 1387.0,737.15 1390.2,742.12 1394.5,749.38 1396.4,752.87 1398.1,756.21 1399.8,759.78 1401.3,763.16 1402.7,766.60 1404.1,770.32 1405.8,775.16 1407.7,780.93 1409.9,787.98 1411.7,794.06 1414.7,805.17 1417.5,817.00 1419.0,824.28 1420.7,833.48 1423.1,847.58 1424.9,858.81 1428.5,883.58 1435.0,932.36 1436.8,945.27 1438.7,957.49 1442.6,980.43 1444.8,994.95 1445.6,999.30 1446.4,1002.46 1447.8,1006.88 1449.2,1010.40 1450.2,1012.45 1451.4,1014.56 1452.8,1016.79 1454.3,1018.93 1455.7,1020.70 1457.2,1022.39 1458.7,1023.87 1460.3,1025.24 1462.5,1026.87 1464.9,1028.40 1467.4,1029.79 1472.9,1032.58 1475.3,1033.89 1478.1,1035.57 1484.8,1039.80 1488.3,1041.81 1491.7,1043.40 1495.9,1044.87 1499.2,1045.82 1506.9,1047.82 1514.2,1049.83 1518.1,1050.78 1523.9,1051.93 1526.3,1052.28 1528.4,1052.40 1529.9,1052.25 1531.6,1051.74 1533.4,1050.91 1535.5,1049.66 1536.3,1049.10 1537.1,1048.29 1538.0,1047.10 1538.9,1045.64 1540.2,1043.20 1541.8,1039.84 1542.8,1037.39 1543.7,1034.82 1544.8,1031.20 1545.9,1027.03 1546.8,1023.13 1547.5,1019.46 1549.0,1009.68 1550.5,997.67 1551.7,985.32 1553.5,964.34 1555.4,940.61 1557.1,916.90 1558.0,902.46 1560.5,859.07 1561.7,841.56 1563.0,824.11 1564.6,804.70 1566.7,781.88 1568.0,769.77 1569.6,757.33 1571.3,745.78 1572.9,736.74 1574.7,728.72 1576.9,720.68 1580.3,709.95 1583.3,701.48 1591.8,679.65 1593.4,675.83 1594.8,672.84 1596.3,670.14 1598.0,667.77 1600.2,665.21 1602.5,663.03 1604.1,661.80 1605.7,660.82 1607.3,660.02 1610.7,658.51 1612.1,657.79 1615.1,655.54 1616.1,654.94 1616.9,654.65 1617.6,654.61 1618.3,654.81 1619.1,655.30 1620.2,656.37 1621.4,657.90 1621.8,658.65 1622.2,659.76 1623.2,663.60 1625.1,672.52 1626.4,679.94 1627.8,689.06 1630.7,711.80 1639.3,782.48 1641.8,800.70 1644.3,817.47 1646.4,829.95 1648.3,840.07 1649.4,845.31 1650.3,848.65 1651.4,851.58 1652.1,852.95 1652.4,853.24 1652.7,853.29 1653.0,853.16 1653.4,852.77 1654.2,851.40 1655.6,848.04 1656.3,845.73 1657.0,842.69 1657.8,838.53 1659.8,826.31 1661.4,813.56 1668.2,752.51 1669.8,737.45 1672.4,710.71 1673.5,700.80 1675.1,688.33 1676.1,681.90 1676.6,679.50 1677.2,677.25 1678.0,674.60 1678.7,672.62 1679.5,670.77 1680.3,669.37 1681.5,667.95 1682.8,666.78 1686.4,664.32 1691.1,660.67 1693.4,659.05 1695.2,658.00 1698.7,656.22 1700.4,655.46 1702.5,654.79 1703.4,654.64 1704.3,654.60 1706.0,654.82 1709.5,655.81 1711.0,656.07 1713.4,656.05 1716.6,655.74 1719.3,655.37 1720.6,655.01 1722.1,654.37 1725.7,652.51 1727.4,651.86 1728.8,651.61 1730.5,651.71 1732.9,652.27 1736.7,653.64 1738.3,654.33 1740.1,655.30 1743.3,657.41 1750.0,662.34 1752.2,664.10 1758.2,669.18 1760.0,670.56 1761.7,671.73 1765.5,674.01 1769.7,676.22 1772.4,677.49 1776.9,679.11 1778.1,679.72 1779.1,680.37 1779.8,681.06 1780.6,682.16 1781.5,683.73 1782.4,685.57 1784.7,691.01 1785.5,693.31 1786.2,695.65 1787.2,699.65 1788.0,703.64 1788.6,707.75 1789.3,713.67 1792.9,750.41 1793.9,761.99 1794.8,773.85 1795.4,782.86 1796.0,793.80 1798.8,852.47 1799.9,873.27 1800.4,885.33 1801.0,905.00"/>
</g>
<g id="guides">
<line class="dash" x1="402.0" y1="67.7" x2="402.0" y2="798"/>
<line class="dash" x1="640.2" y1="67.7" x2="640.2" y2="798"/>
<line class="dash" x1="674.2" y1="67.7" x2="674.2" y2="798"/>
<line class="dash" x1="1250.4" y1="67.7" x2="1250.4" y2="797"/>
<line class="dash" x1="1509.2" y1="67.7" x2="1509.2" y2="1198.2"/>
<line class="dash" x1="1652.3" y1="67.7" x2="1652.3" y2="917"/>
</g>
<g id="frame" stroke="#000" fill="none">
<line x1="127.3" y1="19.4" x2="1801.9" y2="19.4" stroke-width="3.2"/>
<line x1="129.1" y1="17.8" x2="129.1" y2="64.5" stroke-width="3.7"/>
<line x1="128.65" y1="64" x2="128.65" y2="1219.1" stroke-width="4.5"/>
<line x1="1800.05" y1="17.8" x2="1800.05" y2="65.5" stroke-width="3.7"/>
<line x1="1800.05" y1="65" x2="1800.05" y2="1219.1" stroke-width="4.7"/>
<line x1="127.1" y1="1216.9" x2="1802.4" y2="1216.9" stroke-width="4.5"/>
</g>
<g id="ticks">
<line class="tk" x1="129.1" y1="1216.2" x2="129.1" y2="1240"/>
<line class="tk" x1="248.4" y1="1216.2" x2="248.4" y2="1228.6"/>
<line class="tk" x1="367.8" y1="1216.2" x2="367.8" y2="1240"/>
<line class="tk" x1="487.1" y1="1216.2" x2="487.1" y2="1228.6"/>
<line class="tk" x1="606.5" y1="1216.2" x2="606.5" y2="1240"/>
<line class="tk" x1="725.9" y1="1216.2" x2="725.9" y2="1228.6"/>
<line class="tk" x1="845.2" y1="1216.2" x2="845.2" y2="1240"/>
<line class="tk" x1="964.6" y1="1216.2" x2="964.6" y2="1228.6"/>
<line class="tk" x1="1083.9" y1="1216.2" x2="1083.9" y2="1240"/>
<line class="tk" x1="1203.3" y1="1216.2" x2="1203.3" y2="1228.6"/>
<line class="tk" x1="1322.6" y1="1216.2" x2="1322.6" y2="1240"/>
<line class="tk" x1="1442.0" y1="1216.2" x2="1442.0" y2="1228.6"/>
<line class="tk" x1="1561.4" y1="1216.2" x2="1561.4" y2="1240"/>
<line class="tk" x1="1680.7" y1="1216.2" x2="1680.7" y2="1228.6"/>
<line class="tk" x1="1800.1" y1="1216.2" x2="1800.1" y2="1240"/>
</g>
<g id="ticklabels" font-size="63.3" text-anchor="middle">
<text transform="translate(128.8 1307.2) scale(1 1.02)">4000</text>
<text transform="translate(367.5 1307.2) scale(1 1.02)">3500</text>
<text transform="translate(606.2 1307.2) scale(1 1.02)">3000</text>
<text transform="translate(844.9 1307.2) scale(1 1.02)">2500</text>
<text transform="translate(1083.6 1307.2) scale(1 1.02)">2000</text>
<text transform="translate(1322.3 1307.2) scale(1 1.02)">1500</text>
<text transform="translate(1561.1 1307.2) scale(1 1.02)">1000</text>
<text transform="translate(1799.8 1307.2) scale(1 1.02)">500</text>
</g>
<text id="ytitle" transform="translate(64.8,593.3) rotate(-90)" text-anchor="middle" font-size="69" letter-spacing="0.4">Transmittance</text>
<text id="xtitle" transform="translate(690.6 1422.3) scale(1.04 1)" font-size="64.5" letter-spacing="1.03">Wavenumber/cm<tspan font-size="44" dy="-25.5" letter-spacing="0">-1</tspan></text>
<line x1="0" y1="1435.5" x2="1862" y2="1435.5" stroke="#f3f3f3" stroke-width="1"/>
<g id="annot">
<text transform="translate(298.90000000000003 777.4) scale(1 1.032)" font-size="40.5">3450</text>
<text transform="translate(536.9 783.4) scale(1 1.032)" font-size="40.5">2927</text>
<text transform="translate(691.9 763.2) scale(1 1.032)" font-size="40.5">2860</text>
<text transform="translate(1152.3 766.6) scale(1 1.032)" font-size="40.5">1650</text>
<text transform="translate(1580.1 924.4) scale(1 1.032)" font-size="40.5">808</text>
<text transform="translate(1513.8 1201.6) scale(1 1.032)" font-size="40.5">1090</text>
<text transform="translate(322.1 857.2) scale(1 1.03)" font-size="63.1">Si–OH</text>
<text transform="translate(628.8000000000001 857.2) scale(1 1.03)" font-size="63.1">C–H</text>
<text transform="translate(1168.6 856.3) scale(1 1.03)" font-size="63.1">Si–OH</text>
<text transform="translate(1600.1 1076.4) scale(1 1.03)" font-size="63.1">Si–O</text>
</g>
<g id="arrows">
<line x1="1622.8" y1="934.9" x2="1642.7" y2="981.7" stroke="#000" stroke-width="3.6"/><polygon points="1657.5,1016.7 1633.0,983.6 1650.8,976.1" fill="#000"/>
<line x1="1556.1" y1="1161.0" x2="1635.2" y2="1112.8" stroke="#000" stroke-width="3.6"/><polygon points="1667.7,1093.0 1638.6,1122.1 1628.5,1105.6" fill="#000"/>
</g>
<g id="legend">
<line class="lg" x1="134.1" y1="1017.3" x2="275.9" y2="1017.3" stroke="#000000"/><text transform="translate(292.2 1038.3) scale(1 1.03)" font-size="63.1">HLNPs</text>
<line class="lg" x1="134.1" y1="1097.3" x2="275.9" y2="1097.3" stroke="#f00000"/><text transform="translate(292.2 1118.3) scale(1 1.03)" font-size="63.1">M3C</text>
<line class="lg" x1="134.1" y1="1177.0" x2="275.9" y2="1177.0" stroke="#0000ff"/><text transform="translate(292.2 1197.7) scale(1 1.03)" font-size="63.1">M6C</text>
<line class="lg" x1="444.9" y1="1097.3" x2="587.5" y2="1097.3" stroke="#9900ff"/><text transform="translate(603.2 1118.3) scale(1 1.03)" font-size="63.1">M8C</text>
<line class="lg" x1="444.9" y1="1177.0" x2="587.5" y2="1177.0" stroke="#009800"/><text transform="translate(603.2 1197.7) scale(1 1.03)" font-size="63.1">M12C</text>
</g>
</svg>
</body>
</html>
